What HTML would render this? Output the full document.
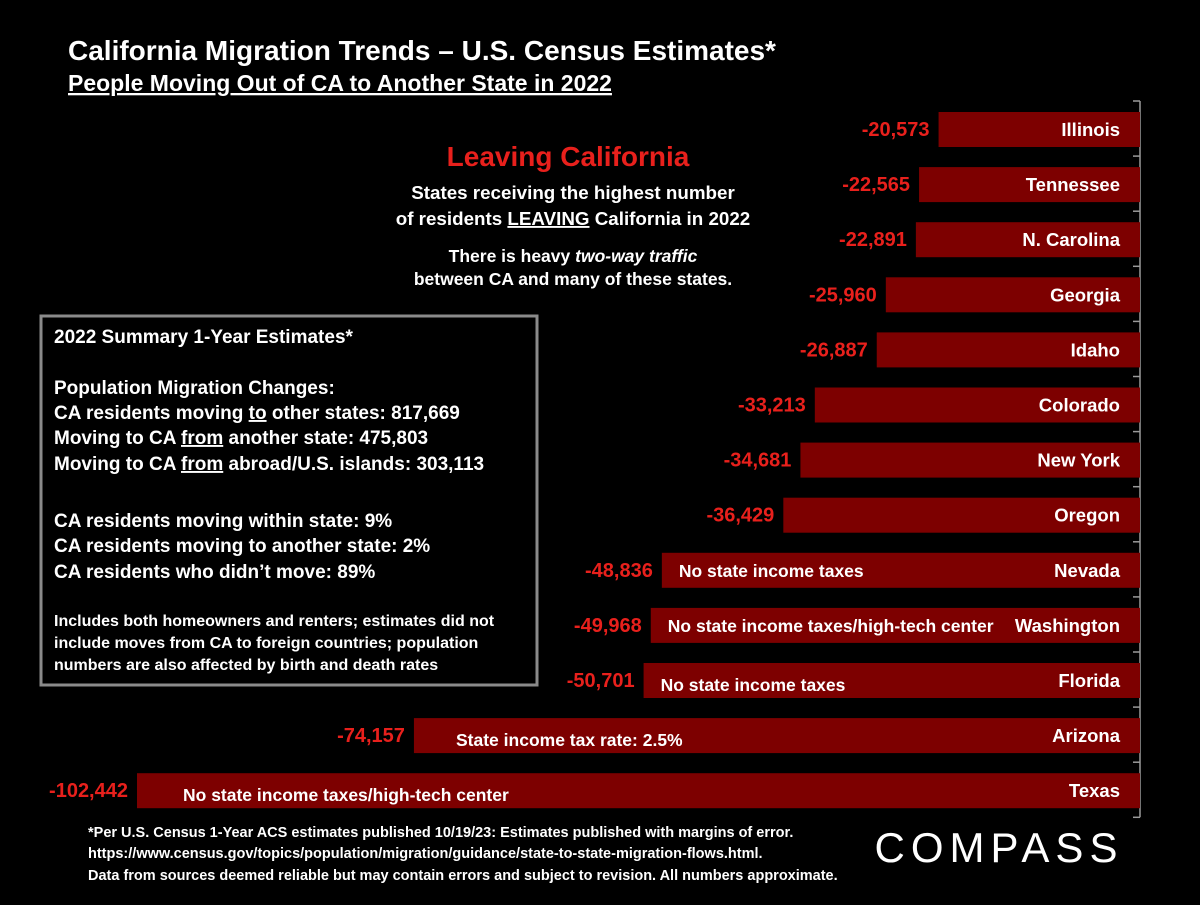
<!DOCTYPE html>
<html><head><meta charset="utf-8"><style>
body{margin:0;background:#000;width:1200px;height:900px;overflow:hidden;font-family:"Liberation Sans",sans-serif;color:#fff}
svg text{font-family:"Liberation Sans",sans-serif}
</style></head><body>
<svg id="chart" width="1200" height="900" viewBox="0 0 1200 900">
<rect width="1200" height="900" fill="#000"/>
<text x="68" y="60" font-size="28" font-weight="bold" fill="#fff">California Migration Trends – U.S. Census Estimates*</text>
<text x="68" y="91" font-size="23" font-weight="bold" fill="#fff" text-decoration="underline">People Moving Out of CA to Another State in 2022</text>
<text x="568" y="166" font-size="28" font-weight="bold" fill="#e8201c" text-anchor="middle">Leaving California</text>
<g font-size="18.8" font-weight="bold" fill="#fff" text-anchor="middle">
<text x="573" y="199">States receiving the highest number</text>
<text x="573" y="225">of residents <tspan text-decoration="underline">LEAVING</tspan> California in 2022</text>
<text x="573" y="262" font-size="17.5">There is heavy <tspan font-style="italic">two-way traffic</tspan></text>
<text x="573" y="285" font-size="17.5">between CA and many of these states.</text>
</g>
<g>
<rect x="41" y="316" width="496" height="369" fill="#000" stroke="#8a8a8a" stroke-width="3"/>
<g font-size="19" font-weight="bold" fill="#fff">
<text x="54" y="343">2022 Summary 1-Year Estimates*</text>
<text x="54" y="394">Population Migration Changes:</text>
<text x="54" y="419">CA residents moving <tspan text-decoration="underline">to</tspan> other states: 817,669</text>
<text x="54" y="444">Moving to CA <tspan text-decoration="underline">from</tspan> another state: 475,803</text>
<text x="54" y="470">Moving to CA <tspan text-decoration="underline">from</tspan> abroad/U.S. islands: 303,113</text>
<text x="54" y="527">CA residents moving within state:  9%</text>
<text x="54" y="552">CA residents moving to another state:  2%</text>
<text x="54" y="578">CA residents who didn’t move:  89%</text>
</g>
<g font-size="16" font-weight="bold" fill="#fff">
<text x="54" y="626">Includes both homeowners and renters; estimates did not</text>
<text x="54" y="648">include moves from CA to foreign countries; population</text>
<text x="54" y="670">numbers are also affected by birth and death rates</text>
</g>
</g>
<g id="bars"></g>
<g font-size="14.5" font-weight="bold" fill="#fff">
<text x="88" y="837">*Per U.S. Census 1-Year ACS estimates published 10/19/23: Estimates published with margins of error.</text>
<text x="88" y="858">https://www.census.gov/topics/population/migration/guidance/state-to-state-migration-flows.html.</text>
<text x="88" y="880">Data from sources deemed reliable but may contain errors and subject to revision. All numbers approximate.</text>
</g>
<text x="999" y="862" font-size="42" fill="#fff" text-anchor="middle" letter-spacing="6">COMPASS</text>
</svg>
<script>
const states=["Illinois","Tennessee","N. Carolina","Georgia","Idaho","Colorado","New York","Oregon","Nevada","Washington","Florida","Arizona","Texas"];
const values=[-20573,-22565,-22891,-25960,-26887,-33213,-34681,-36429,-48836,-49968,-50701,-74157,-102442];
const notes=["","","","","","","","","No state income taxes","No state income taxes/high-tech center","No state income taxes","State income tax rate:  2.5%","No state income taxes/high-tech center"];
const NS="http://www.w3.org/2000/svg";
const g=document.getElementById('bars');
const x0=1140,scale=1003/102442,top0=101,step=55.1,bh=35;
const xs=v=>x0+v*scale;
const yb=i=>top0+i*step;
function mk(t,a){const e=document.createElementNS(NS,t);for(const k in a)e.setAttribute(k,a[k]);return e;}
const axis=mk('line',{x1:x0,y1:top0,x2:x0,y2:top0+states.length*step,stroke:'#9a9a9a','stroke-width':1.5});


g.appendChild(axis);
for(let i=0;i<=states.length;i++){
 const t=mk('line',{x1:x0-7,y1:yb(i),x2:x0,y2:yb(i),stroke:'#9a9a9a','stroke-width':1.5});
 
 
 g.appendChild(t);
}
states.forEach((s,i)=>{
 const y=yb(i)+11, x=xs(values[i]);
 const r=mk('rect',{x:x,y:y,width:x0-x,height:bh,fill:'#7d0000'});
 
 
 g.appendChild(r);
 const l=mk('text',{x:x0-20,y:y+24,'font-size':18.5,'font-weight':'bold',fill:'#fff','text-anchor':'end'});
 l.textContent=s;
 
 
 g.appendChild(l);
 const v=mk('text',{x:x-9,y:y+24,'font-size':20,'font-weight':'bold',fill:'#e8201c','text-anchor':'end'});
 v.textContent=values[i].toLocaleString('en-US');
 
 
 g.appendChild(v);
 if(notes[i]){
  const nx = i===12?183:(i===11?456:x+17);
  const n=mk('text',{x:nx,y:y+(i>=10?28:24),'font-size':17.5,'font-weight':'bold',fill:'#fff'});
  n.textContent=notes[i];
  
  
  g.appendChild(n);
 }
});
</script>
</body></html>
